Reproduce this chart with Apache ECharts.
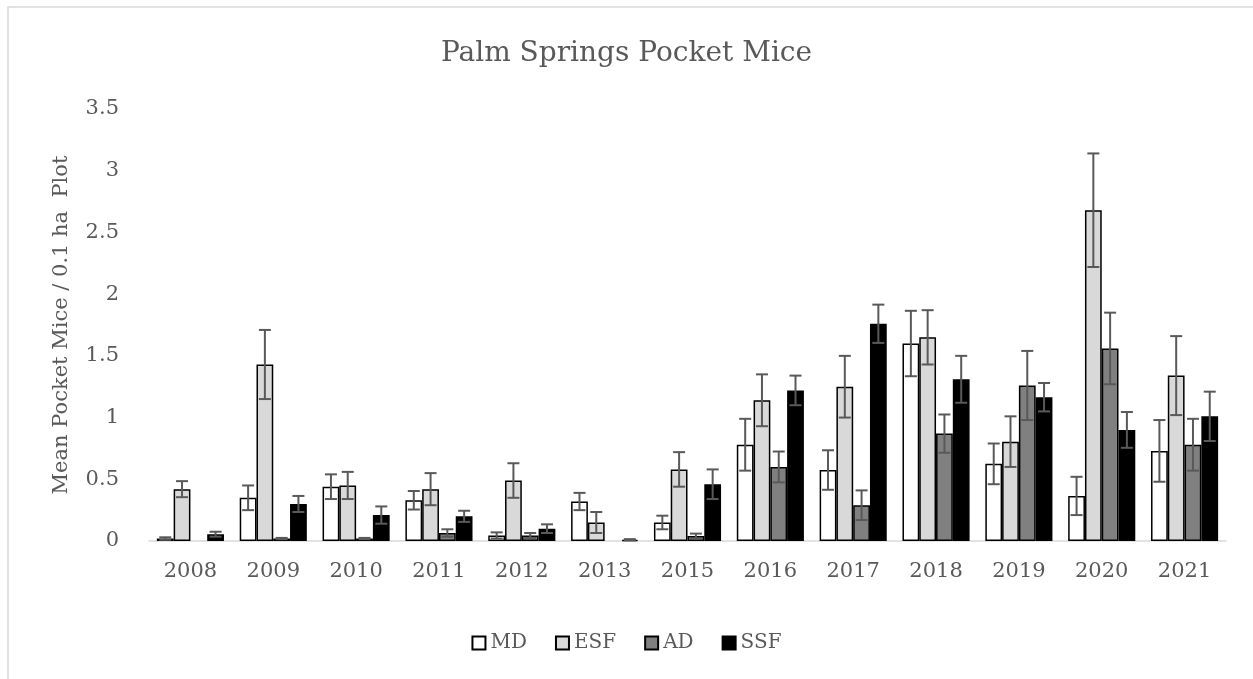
<!DOCTYPE html>
<html>
<head>
<meta charset="utf-8">
<script src="https://cdn.jsdelivr.net/npm/echarts@6/dist/echarts.min.js"></script>
<style>
  html, body { margin: 0; padding: 0; background: #fff; }
  #chart { width: 1253px; height: 679px; }
</style>
</head>
<body>
<div id="chart"></div>
<script>
// 年份
const years = ['2008', '2009', '2010', '2011', '2012', '2013', '2015', '2016', '2017', '2018', '2019', '2020', '2021'];
const groups = ['MD', 'ESF', 'AD', 'SSF'];
const yTicks = { min: 0, max: 3.5, interval: 0.5 };

// 平均值
const mdMean  = [0.02, 0.35, 0.44, 0.33, 0.045, 0.32, 0.15, 0.78, 0.575, 1.60, 0.625, 0.365, 0.73];
const esfMean = [0.42, 1.43, 0.45, 0.42, 0.49, 0.15, 0.58, 1.14, 1.25, 1.65, 0.805, 2.68, 1.34];
const adMean  = [0, 0.02, 0.02, 0.065, 0.045, 0, 0.04, 0.60, 0.29, 0.87, 1.26, 1.56, 0.78];
const ssfMean = [0.055, 0.30, 0.21, 0.20, 0.10, 0.01, 0.46, 1.22, 1.76, 1.31, 1.165, 0.90, 1.01];

// 标准误
const mdErr  = [0.01, 0.10, 0.10, 0.075, 0.025, 0.07, 0.055, 0.21, 0.16, 0.265, 0.165, 0.155, 0.25];
const esfErr = [0.065, 0.28, 0.11, 0.13, 0.14, 0.085, 0.14, 0.21, 0.25, 0.22, 0.205, 0.46, 0.32];
const adErr  = [0, 0.005, 0.005, 0.03, 0.02, 0, 0.02, 0.125, 0.12, 0.155, 0.28, 0.29, 0.21];
const ssfErr = [0.02, 0.065, 0.07, 0.045, 0.035, 0.005, 0.12, 0.12, 0.155, 0.19, 0.115, 0.145, 0.20];

const means = [mdMean, esfMean, adMean, ssfMean];
const errs = [mdErr, esfErr, adErr, ssfErr];
const fills = ['#ffffff', '#d9d9d9', '#808080', '#000000'];

const FONT = 'DejaVu Serif';
const TEXT = '#595959';
const CAT_GAP = 0.19;

const chart = echarts.init(document.getElementById('chart'));

function errorRender(k) {
    return function (params, api) {
        const idx = api.value(0);
        const v = api.value(1);
        const e = api.value(2);
        if (!e) return null;
        const band = api.size([1, 0])[0];
        const bw = band * (1 - CAT_GAP) / 4;
        const c = api.coord([idx, v]);
        const x = c[0] + (k - 1.5) * bw;
        const yTop = api.coord([idx, v + e])[1];
        const yBot = api.coord([idx, Math.max(v - e, 0)])[1];
        const cap = 6;
        const style = { stroke: '#595959', lineWidth: 2 };
        return {
            type: 'group',
            children: [
                { type: 'line', shape: { x1: x, y1: yTop, x2: x, y2: yBot }, style: style },
                { type: 'line', shape: { x1: x - cap, y1: yTop, x2: x + cap, y2: yTop }, style: style },
                { type: 'line', shape: { x1: x - cap, y1: yBot, x2: x + cap, y2: yBot }, style: style }
            ]
        };
    };
}

const series = [];
groups.forEach((g, k) => {
    series.push({
        name: g,
        type: 'bar',
        // 0 值不画柱子(避免边框画出一条线)
        data: means[k].map(v => (v === 0 ? '-' : v)),
        barGap: '0%',
        barCategoryGap: (CAT_GAP * 100) + '%',
        itemStyle: { color: fills[k], borderColor: '#000', borderWidth: 1.5 },
        emphasis: { disabled: true }
    });
});
groups.forEach((g, k) => {
    series.push({
        type: 'custom',
        renderItem: errorRender(k),
        data: years.map((y, i) => [i, means[k][i], errs[k][i]]),
        z: 5,
        silent: true
    });
});

chart.setOption({
    animation: false,
    backgroundColor: '#fff',
    graphic: [{
        type: 'rect',
        shape: { x: 8, y: 7, width: 1400, height: 800 },
        style: { fill: 'none', stroke: '#d9d9d9', lineWidth: 1.5 },
        silent: true
    }],
    title: {
        text: 'Palm Springs Pocket Mice',
        left: 'center',
        top: 35,
        textStyle: { fontFamily: FONT, fontSize: 28, fontWeight: 'normal', color: TEXT }
    },
    legend: {
        data: groups,
        bottom: 21,
        left: 'center',
        itemWidth: 13,
        itemHeight: 13,
        itemGap: 28,
        icon: 'rect',
        textStyle: { fontFamily: FONT, fontSize: 20, color: TEXT }
    },
    grid: { left: 149, right: 27, top: 109, bottom: 138 },
    xAxis: {
        type: 'category',
        data: years,
        axisLine: { lineStyle: { color: '#d9d9d9', width: 1.5 } },
        axisTick: { show: false },
        axisLabel: { fontFamily: FONT, fontSize: 21, color: TEXT, margin: 20 }
    },
    yAxis: {
        type: 'value',
        min: yTicks.min,
        max: yTicks.max,
        interval: yTicks.interval,
        name: 'Mean Pocket Mice / 0.1 ha  Plot',
        nameLocation: 'middle',
        nameGap: 77,
        nameTextStyle: { fontFamily: FONT, fontSize: 21, color: TEXT },
        axisLine: { show: false },
        axisTick: { show: false },
        splitLine: { show: false },
        axisLabel: { fontFamily: FONT, fontSize: 21, color: TEXT, margin: 30 }
    },
    series: series
});

window.addEventListener('resize', function () {
    chart.resize();
});
</script>
</body>
</html>
